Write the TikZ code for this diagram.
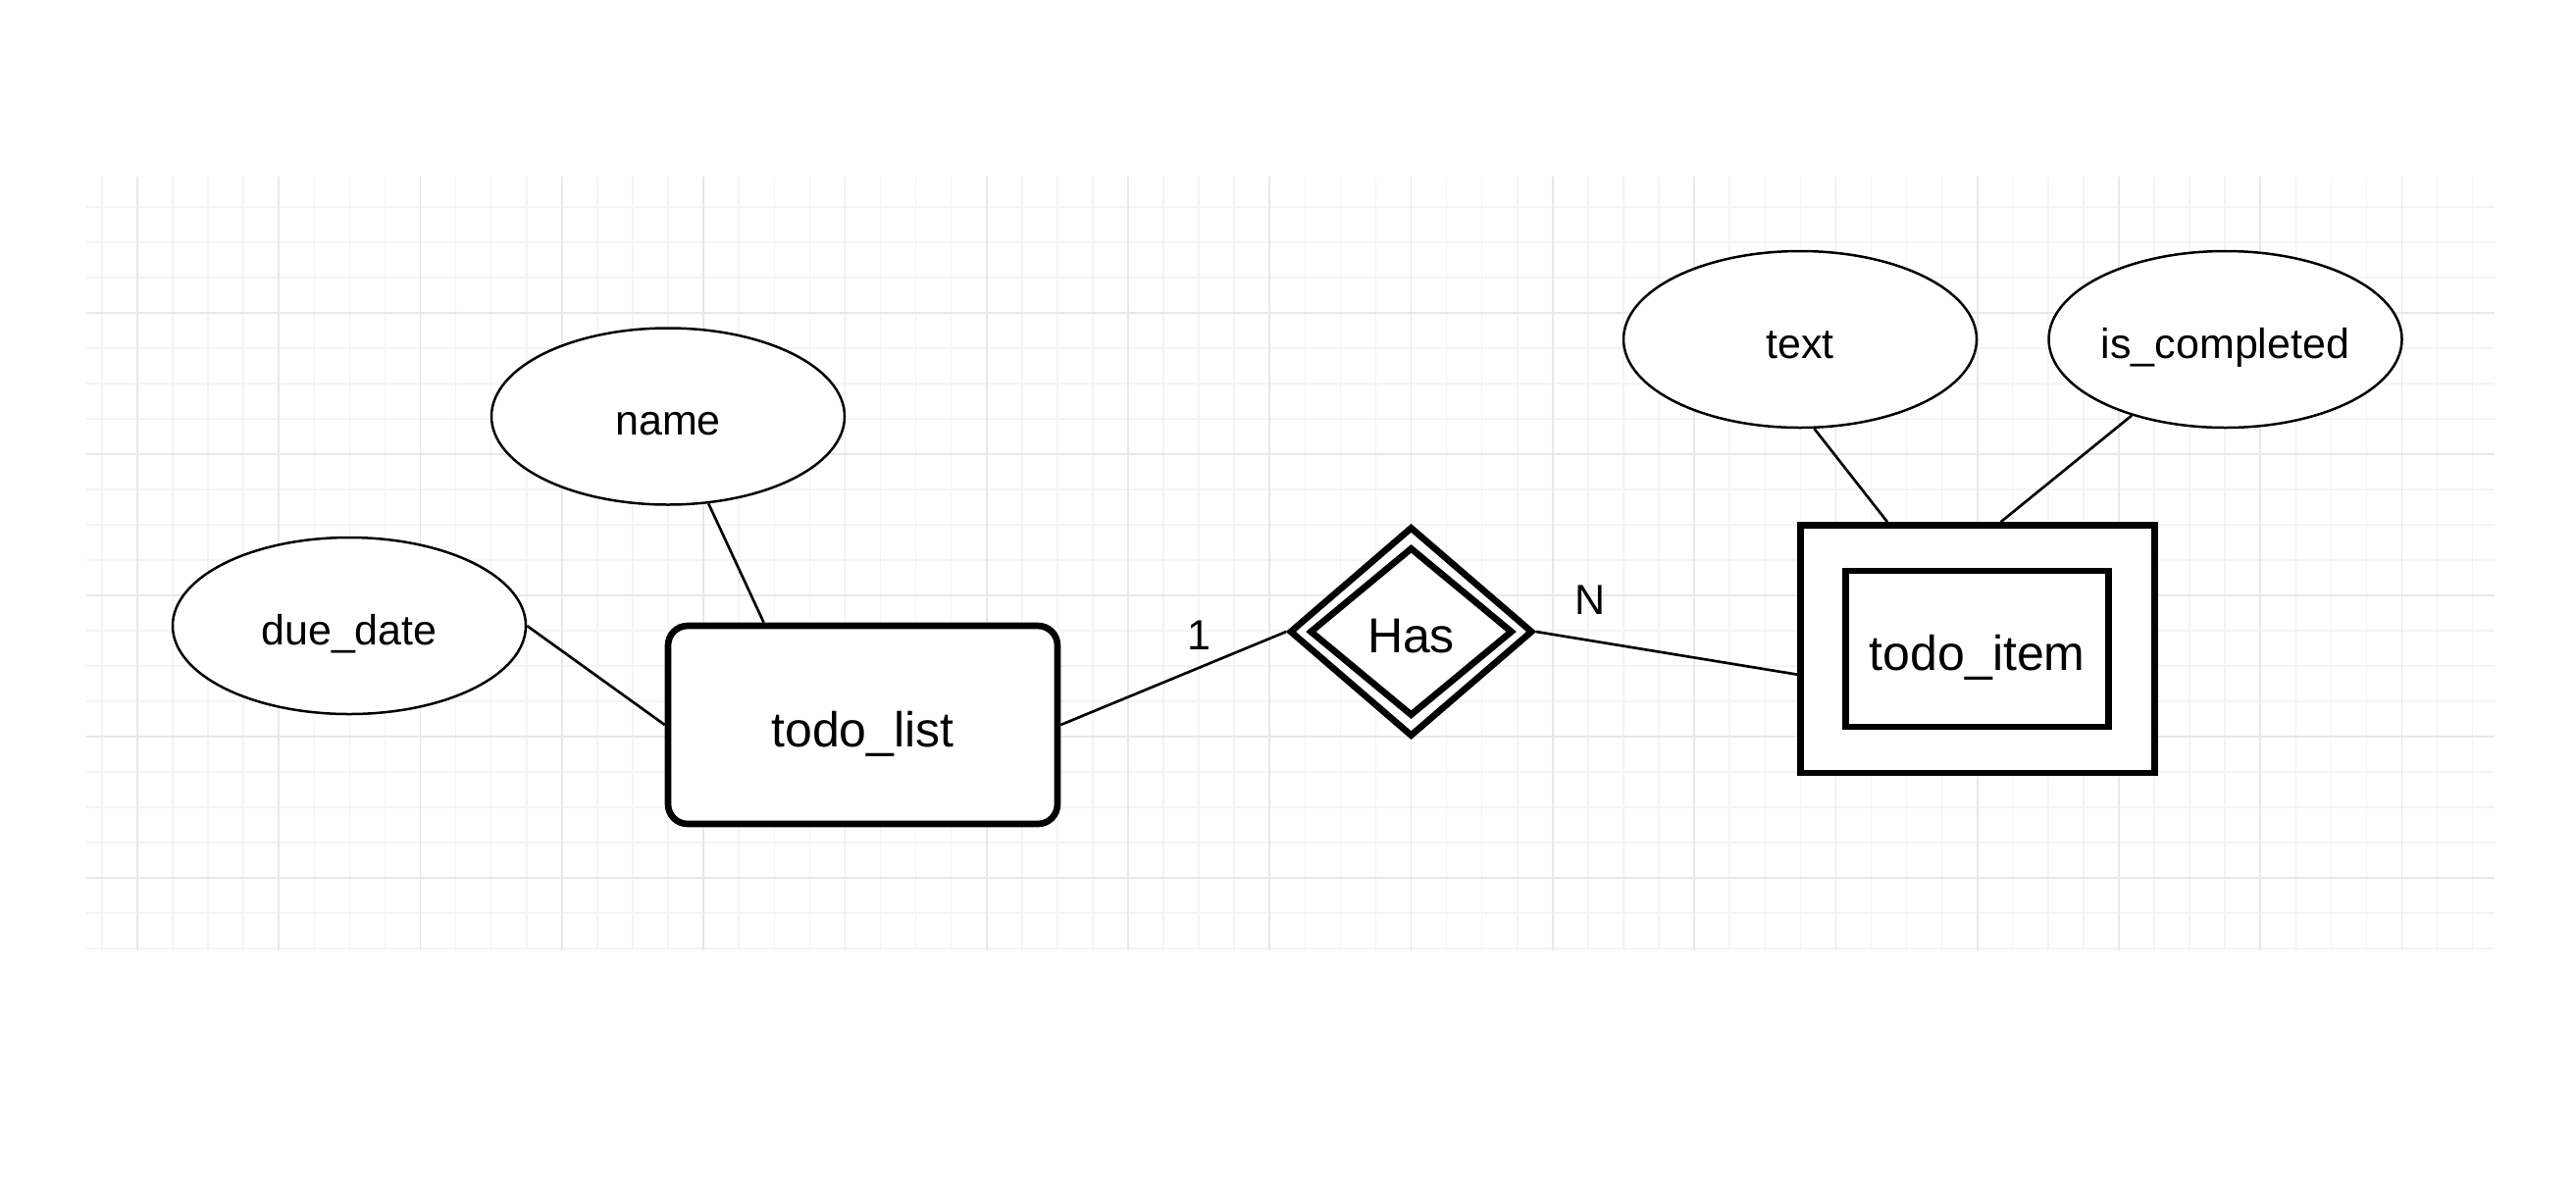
\documentclass[tikz,border=0pt]{standalone}
\usepackage{fontspec}
\setmainfont{Liberation Sans}
\usetikzlibrary{shapes.geometric,calc}
\definecolor{gridminor}{HTML}{F4F4F4}
\definecolor{gridmajor}{HTML}{E8E8E8}
\tikzset{
  gmin/.style={draw=gridminor,line width=0.45pt},
  gmaj/.style={draw=gridmajor,line width=0.5pt},
  attr/.style={ellipse,draw=black,fill=white,line width=0.75pt,inner sep=0pt,
    minimum width=108pt,minimum height=54pt,
    font=\fontsize{12.9pt}{15pt}\selectfont,text height=11.4pt,text depth=0pt},
  ent/.style={rectangle,draw=black,fill=white,line width=2pt,inner sep=0pt,
    font=\fontsize{15pt}{18pt}\selectfont,text height=13.4pt,text depth=0pt},
  rel/.style={diamond,draw=black,fill=white,line width=2pt,inner sep=0pt,
    font=\fontsize{15pt}{18pt}\selectfont,text height=13.0pt,text depth=0pt},
  conn/.style={draw=black,line width=0.8pt},
  lbl/.style={inner sep=0pt,font=\fontsize{12.9pt}{15pt}\selectfont}
}
\begin{document}
\begin{tikzpicture}[x=0.3pt,y=-0.3pt]
\useasboundingbox[fill=white] (0,0) rectangle (2626,1200);
% background grid
\begin{scope}
\clip (88,180) rectangle (2543,969);
\foreach \j in {-1,...,66} \draw[gmin] (140+36.07*\j,180) -- (140+36.07*\j,969);
\foreach \j in {-3,...,18} \draw[gmin] (88,319+36*\j) -- (2543,319+36*\j);
\foreach \j in {0,...,16} \draw[gmaj] (140+144.28*\j,180) -- (140+144.28*\j,969);
\foreach \j in {0,...,4} \draw[gmaj] (88,319+144*\j) -- (2543,319+144*\j);
\end{scope}
% attributes
\node[attr] (name) at (681,424.5) {name};
\node[attr] (dd) at (356,638) {due\_date};
\node[attr] (txt) at (1835,346) {text};
\node[attr] (isc) at (2268.5,346) {is\_completed};
% entity todo_list
\node[ent,rounded corners=6pt,minimum width=119.1pt,minimum height=60.6pt] (tl) at (879.5,739) {todo\_list};
% relationship Has
\node[rel,minimum width=74.4pt,minimum height=64.2pt] (has) at (1438.5,644) {};
\node[rel,minimum width=62.1pt,minimum height=51.6pt] (hasin) at (1438.5,644) {Has};
% weak entity todo_item
\node[ent,minimum width=108.3pt,minimum height=75.8pt] (ti) at (2015.8,661.7) {};
\node[ent,minimum width=80.4pt,minimum height=47.7pt] (tiin) at (2015.7,661.5) {todo\_item};
% connectors
\draw[conn] (name) -- ($(tl.north west)!0.25!(tl.north east)$);
\draw[conn] (dd.east) -- (tl.west);
\draw[conn] (tl.east) -- (has.west);
\draw[conn] (has.east) -- ($(ti.north west)!0.6!(ti.south west)$);
\draw[conn] (txt.-81) -- ($(ti.north west)!0.25!(ti.north east)$);
\draw[conn] (isc) -- ($(ti.north west)!0.565!(ti.north east)$);
% cardinality labels
\node[lbl] (one) at (1222,648) {1};
\node[lbl] (many) at (1621,612) {N};
\end{tikzpicture}
\end{document}
